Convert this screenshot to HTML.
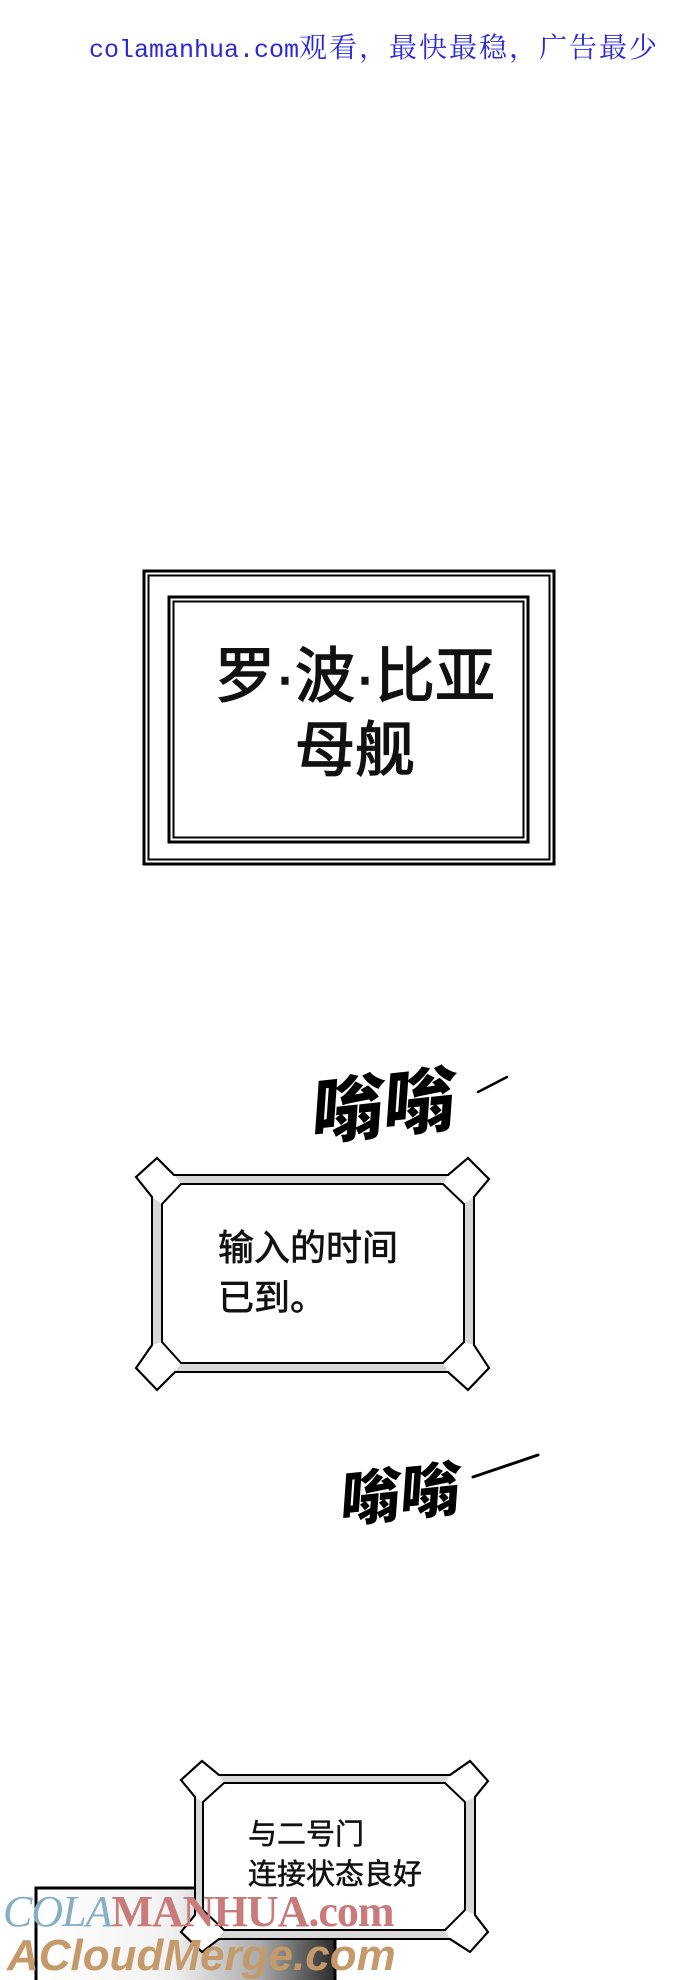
<!DOCTYPE html>
<html><head><meta charset="utf-8"><style>
html,body{margin:0;padding:0;background:#fff;}
body{width:690px;height:1980px;position:relative;overflow:hidden;}
.t{position:absolute;white-space:nowrap;}
.hdr{left:89px;top:26px;color:#2a2ad8;line-height:36px;}
.hdr .l{font:25px "Liberation Mono",monospace;}
.hdr .c{font:28px "Noto Serif CJK SC",serif;letter-spacing:2px;}
.cap{font-family:"Liberation Sans","Noto Sans CJK SC",sans-serif;color:#111;-webkit-text-stroke:0.7px #111;}
.hum{font-family:"Noto Sans CJK SC",sans-serif;font-weight:900;color:#000;transform-origin:0 0;}
</style></head><body>
<div class="t hdr"><span class="l">colamanhua.com</span><span class="c">观看，最快最稳，广告最少</span></div>

<svg width="690" height="1980" style="position:absolute;left:0;top:0">
  <rect x="144" y="571" width="410" height="293" fill="none" stroke="#000" stroke-width="3"/>
  <rect x="148.5" y="575.5" width="401" height="284" fill="none" stroke="#000" stroke-width="2"/>
  <rect x="169" y="597" width="359" height="245" fill="none" stroke="#000" stroke-width="3"/>
  <rect x="173.5" y="601.5" width="350" height="236" fill="none" stroke="#000" stroke-width="2"/>

  <path d="M136,1177 L157,1158 L174,1175 L448,1175 L468,1158 L489,1179 L474,1197 L474,1345 L489,1368 L468,1390 L448,1372 L175,1372 L157,1390 L136,1368 L152,1345 L152,1197 Z" fill="#fff" stroke="#000" stroke-width="2"/>
  <path d="M174,1175 L448,1175 L443,1184 L181,1184 Z" fill="#d8d8d8"/>
  <path d="M175,1372 L448,1372 L443,1363 L181,1363 Z" fill="#d8d8d8"/>
  <path d="M152,1197 L162,1204 L162,1342 L152,1345 Z" fill="#d8d8d8"/>
  <path d="M474,1197 L464,1204 L464,1342 L474,1345 Z" fill="#d8d8d8"/>
  <path d="M181,1184 L443,1184 L464,1204 L464,1342 L443,1363 L181,1363 L162,1342 L162,1204 Z" fill="#fff" stroke="#000" stroke-width="2"/>
  <path d="M136,1177 L157,1158 L174,1175 L448,1175 L468,1158 L489,1179 L474,1197 L474,1345 L489,1368 L468,1390 L448,1372 L175,1372 L157,1390 L136,1368 L152,1345 L152,1197 Z" fill="none" stroke="#000" stroke-width="2"/>

  <line x1="478" y1="1092" x2="507" y2="1077" stroke="#000" stroke-width="2.5" stroke-linecap="round"/>
  <line x1="473" y1="1477" x2="538" y2="1455" stroke="#000" stroke-width="3" stroke-linecap="round"/>

  <defs><linearGradient id="g" x1="0" x2="1" y1="0" y2="0">
    <stop offset="0" stop-color="#fff"/><stop offset="0.45" stop-color="#f2f2f2"/>
    <stop offset="0.75" stop-color="#aaa"/><stop offset="1" stop-color="#2a2a2a"/></linearGradient></defs>
  <rect x="36" y="1888" width="299" height="100" fill="url(#g)" stroke="#000" stroke-width="3"/>

  <path d="M181,1780 L202,1761 L219,1775 L450,1775 L470,1761 L488,1781 L475,1797 L475,1915 L488,1932 L470,1952 L450,1939 L219,1939 L202,1952 L181,1932 L195,1915 L195,1797 Z" fill="#fff" stroke="#000" stroke-width="2"/>
  <path d="M219,1775 L450,1775 L445,1783 L224,1783 Z" fill="#d8d8d8"/>
  <path d="M219,1939 L450,1939 L445,1930 L224,1930 Z" fill="#d8d8d8"/>
  <path d="M195,1797 L203,1802 L203,1910 L195,1915 Z" fill="#d8d8d8"/>
  <path d="M475,1797 L465,1802 L465,1910 L475,1915 Z" fill="#d8d8d8"/>
  <path d="M224,1783 L445,1783 L465,1802 L465,1910 L445,1930 L224,1930 L203,1910 L203,1802 Z" fill="#fff" stroke="#000" stroke-width="2"/>
  <path d="M181,1780 L202,1761 L219,1775 L450,1775 L470,1761 L488,1781 L475,1797 L475,1915 L488,1932 L470,1952 L450,1939 L219,1939 L202,1952 L181,1932 L195,1915 L195,1797 Z" fill="none" stroke="#000" stroke-width="2"/>
</svg>

<div class="t cap" style="left:200px;top:640px;font-size:60px;line-height:74px;text-align:center;width:310px;-webkit-text-stroke:1.4px #111;">罗·波·比亚<br>母舰</div>

<div class="t cap" style="left:218px;top:1223px;font-size:36px;line-height:50px;">输入的时间<br>已到。</div>

<div class="t hum" style="left:316px;top:1062px;font-size:72px;line-height:90px;transform:rotate(-6deg) skewX(-10deg);">嗡嗡</div>
<div class="t hum" style="left:344px;top:1458px;font-size:60px;line-height:76px;transform:rotate(-6deg) skewX(-10deg);">嗡嗡</div>

<div class="t cap" style="left:248px;top:1815px;font-size:29px;line-height:40px;-webkit-text-stroke:0.5px #111;">与二号门<br>连接状态良好</div>

<div class="t" style="left:3px;top:1890px;font:italic 44px 'Liberation Serif',serif;line-height:44px;letter-spacing:-1px;"><span style="color:#86aec4;">COLA</span><span style="color:#c97b7b;font-style:normal;font-weight:bold;">MANHUA.com</span></div>
<div class="t" style="left:7px;top:1934px;font:italic bold 44px 'Liberation Sans',sans-serif;line-height:44px;color:#c59a6a;">ACloudMerge.com</div>
</body></html>
